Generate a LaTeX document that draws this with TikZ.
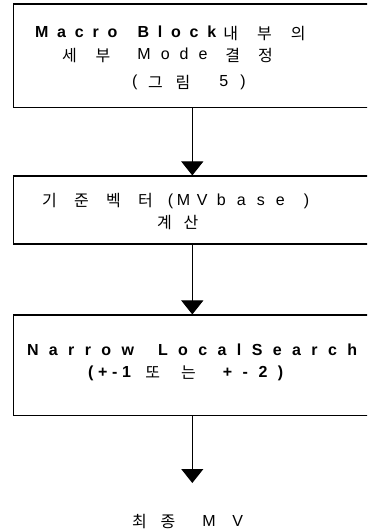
\documentclass[tikz,border=0pt]{standalone}
\usepackage{fontspec}
\setmainfont{Liberation Sans}
\newfontfamily\latf{Liberation Sans}
\newfontfamily\korf{Noto Sans CJK KR}
\usetikzlibrary{arrows.meta}

% tracked text: puts a fixed gap (in pt) after every character of #2
\makeatletter
\newcommand\tr[2]{\def\tr@gap{#1pt}\tr@loop#2\tr@stop}
\def\tr@stop{\tr@stop@}
\def\tr@loop#1{\ifx#1\tr@stop\else#1\hspace{\tr@gap}\expandafter\tr@loop\fi}
\makeatother

\newcommand\Lr{\latf\mdseries\fontsize{16}{18}\selectfont}
\newcommand\Lb{\latf\bfseries\fontsize{16}{18}\selectfont}
\newcommand\Ko{\korf\fontsize{16}{18}\selectfont}
% tracked Hangul, set a little lower to sit on the Latin line
\newcommand\K[2]{\raisebox{-1.5pt}{\Ko\tr{#1}{#2}}}

\tikzset{
  box/.style={draw=black, line width=1.1pt, fill=none, inner sep=0pt},
  txt/.style={anchor=base west, inner sep=0pt, outer sep=0pt},
  flow/.style={draw=black, line width=1pt,
    -{Triangle[width=22pt,length=14pt]}},
}

\begin{document}
\begin{tikzpicture}[x=1pt,y=-1pt]
  \path[use as bounding box] (0,0) rectangle (367,529);
  \fill[white] (0,0) rectangle (367,529);
  \clip (0,0) rectangle (367,529);

  % process boxes (they run past the right margin)
  \node[box, minimum width=370pt, minimum height=103.5pt] (b1) at (198.5,55.75) {};
  \node[box, minimum width=370pt, minimum height=68pt]    (b2) at (198.5,210) {};
  \node[box, minimum width=370pt, minimum height=100.5pt] (b3) at (198.5,365.25) {};

  % flow axis and final arrow end
  \coordinate (ax) at (192.3,0);
  \coordinate (tip3) at (192.3,483);

  % box 1
  \node[txt] (t1a) at (35,38)
    {{\Lb\tr{8.8}{Macro}\hspace{11.4pt}\tr{8.8}{Block}}\hspace{-1.7pt}\K{19}{내부의}};
  \node[txt] (t1b) at (62,60)
    {\K{19}{세부}\hspace{8pt}{\Lr\tr{10}{Mode}}\hspace{8pt}\K{18}{결정}};
  \node[txt] (t1c) at (132,87)
    {{\Lr(}\hspace{10.7pt}\K{13}{그림}\hspace{16pt}{\Lr\tr{12}{5)}}};

  % box 2
  \node[txt] (t2a) at (42,205)
    {\K{17.3}{기준벡터}\hspace{-2.3pt}{\Lr(\hspace{3.7pt}M\hspace{6.7pt}V\hspace{9.3pt}\tr{11.1}{base}\hspace{8pt})}};
  \node[txt] (t2b) at (157,227) {\K{12}{계산}};

  % box 3
  \node[txt] (t3a) at (27,355)
    {\Lb\tr{10.4}{Narrow}\hspace{13.5pt}\tr{10.4}{LocalSearch}};
  \node[txt] (t3b) at (88,377)
    {{\Lb\tr{4.7}{(+-1}}\hspace{9.7pt}\K{21}{또는}\hspace{6pt}{\Lb\tr{10.5}{+-2)}}};

  % result
  \node[txt] (res) at (132,526)
    {\K{14}{최종}\hspace{13pt}{\Lr M\hspace{16.7pt}V}};

  % connectors
  \draw[flow] (b1.south -| ax) -- (b2.north -| ax);
  \draw[flow] (b2.south -| ax) -- (b3.north -| ax);
  \draw[flow] (b3.south -| ax) -- (tip3);
\end{tikzpicture}
\end{document}
